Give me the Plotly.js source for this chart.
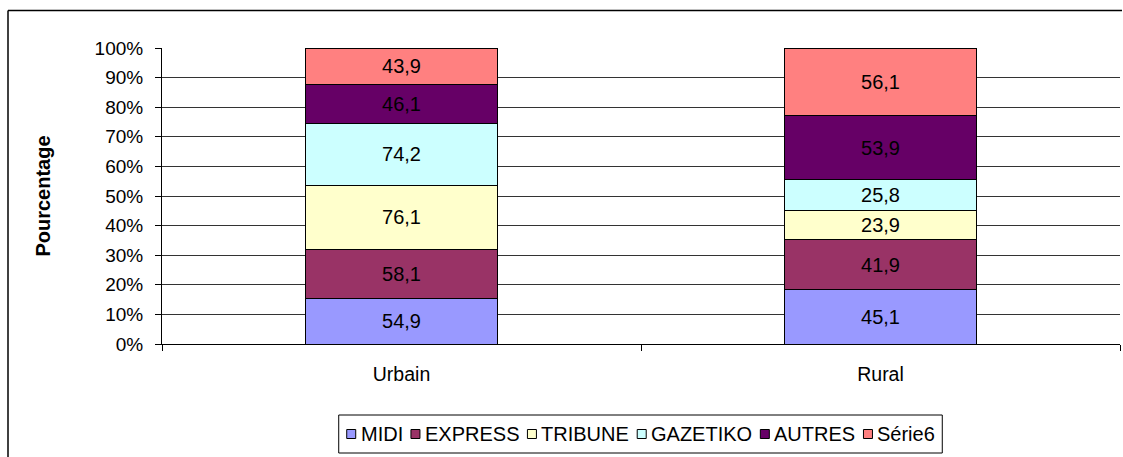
<!DOCTYPE html>
<html>
<head>
<meta charset="utf-8">
<script src="https://cdn.plot.ly/plotly-3.0.1.min.js"></script>
<style>
  html, body { margin: 0; padding: 0; background: #fff; }
  #chart { width: 1123px; height: 457px; }
</style>
</head>
<body>
<div id="chart"></div>
<script>
const categories = ['Urbain', 'Rural'];
const seriesNames = ['MIDI', 'EXPRESS', 'TRIBUNE', 'GAZETIKO', 'AUTRES', 'Série6'];
const midi = [54.9, 45.1];
const express = [58.1, 41.9];
const tribune = [76.1, 23.9];
const gazetiko = [74.2, 25.8];
const autres = [46.1, 53.9];
const serie6 = [43.9, 56.1];
const seriesColors = ['#9999FF', '#993366', '#FFFFCC', '#CCFFFF', '#660066', '#FF8080'];
const yTickVals = [0, 10, 20, 30, 40, 50, 60, 70, 80, 90, 100];

const FONT = 'Liberation Sans, Arial, sans-serif';
const allSeries = [midi, express, tribune, gazetiko, autres, serie6];

const traces = allSeries.map((vals, i) => ({
  type: 'bar',
  name: seriesNames[i],
  x: categories,
  y: vals,
  text: vals.map(v => v.toFixed(1).replace('.', ',')),
  textposition: 'inside',
  insidetextanchor: 'middle',
  textangle: 0,
  constraintext: 'none',
  insidetextfont: { family: FONT, size: 20, color: '#000' },
  marker: { color: seriesColors[i], line: { color: '#000', width: 1 } },
  hoverinfo: 'skip',
  showlegend: false
}));

const L = 162, R = 1120, T = 48, B = 344, W = 1123, H = 457;
const px2x = p => (p - L) / (R - L);
const px2y = p => (B - p) / (B - T);

const shapes = [
  { type: 'line', xref: 'paper', yref: 'paper',
    x0: px2x(8), x1: px2x(1122), y0: px2y(10.5), y1: px2y(10.5),
    line: { color: '#000', width: 1.5 } },
  { type: 'line', xref: 'paper', yref: 'paper',
    x0: px2x(8), x1: px2x(8), y0: px2y(10.5), y1: px2y(460),
    line: { color: '#000', width: 1.5 } }
];
const annotations = [];

// legend (built from the series names and colours)
const LEG_FONT = 20;
const ctx = document.createElement('canvas').getContext('2d');
ctx.font = LEG_FONT + 'px "Liberation Sans", Arial, sans-serif';
const widths = seriesNames.map(n => ctx.measureText(n).width);
const SYM = 9, SYM_GAP = 4, ITEM_GAP = 9, PAD = 8;
let total = PAD * 2;
widths.forEach((w, i) => { total += SYM + SYM_GAP + w + (i < widths.length - 1 ? ITEM_GAP : 0); });
const legCenter = 640.5, legTop = 415, legBottom = 453, legMid = (legTop + legBottom) / 2;
let cx = legCenter - total / 2;
shapes.push({ type: 'rect', xref: 'paper', yref: 'paper',
  x0: px2x(cx), x1: px2x(cx + total), y0: px2y(legTop), y1: px2y(legBottom),
  line: { color: '#000', width: 1 }, fillcolor: 'rgba(0,0,0,0)' });
cx += PAD;
seriesNames.forEach((n, i) => {
  shapes.push({ type: 'rect', xref: 'paper', yref: 'paper',
    x0: px2x(cx), x1: px2x(cx + SYM), y0: px2y(legMid - SYM / 2), y1: px2y(legMid + SYM / 2),
    line: { color: '#000', width: 1 }, fillcolor: seriesColors[i] });
  cx += SYM + SYM_GAP;
  annotations.push({ xref: 'paper', yref: 'paper', x: px2x(cx - 1), y: px2y(legMid),
    xanchor: 'left', yanchor: 'middle', showarrow: false, text: n,
    font: { family: FONT, size: LEG_FONT, color: '#000' } });
  cx += widths[i] + ITEM_GAP;
});

const layout = {
  width: W,
  height: H,
  margin: { l: L, r: W - R, t: T, b: H - B, pad: 0 },
  paper_bgcolor: '#fff',
  plot_bgcolor: '#fff',
  barmode: 'stack',
  barnorm: 'percent',
  bargap: 0.6,
  font: { family: FONT, size: 19, color: '#000' },
  showlegend: false,
  xaxis: {
    type: 'category',
    showline: true, linecolor: '#000', linewidth: 1,
    ticks: 'outside', ticklen: 6, tickcolor: '#000',
    tickson: 'boundaries',
    showgrid: false,
    ticklabelstandoff: 13,
    tickfont: { family: FONT, size: 19.5, color: '#000' },
    fixedrange: true
  },
  yaxis: {
    range: [0, 100],
    tickvals: yTickVals,
    ticktext: yTickVals.map(v => v + '%'),
    showline: true, linecolor: '#000', linewidth: 1,
    ticks: 'outside', ticklen: 6, tickcolor: '#000',
    showgrid: true, gridcolor: '#333', gridwidth: 1,
    zeroline: false,
    ticklabelstandoff: 8,
    tickfont: { family: FONT, size: 19, color: '#000' },
    title: {
      text: 'Pourcentage',
      font: { family: FONT, size: 20, color: '#000', weight: 'bold' },
      standoff: 38
    },
    automargin: false,
    fixedrange: true
  },
  shapes: shapes,
  annotations: annotations
};

Plotly.newPlot('chart', traces, layout, { displayModeBar: false, staticPlot: true });
</script>
</body>
</html>
